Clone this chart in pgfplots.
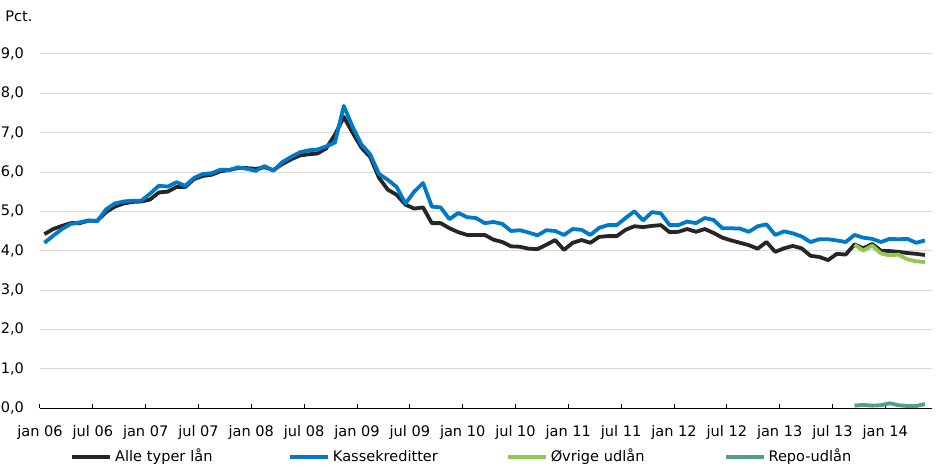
\documentclass[border=0pt]{standalone}
\usepackage{pgfplots}
\pgfplotsset{compat=1.18}
\usepackage{fontspec}
\setmainfont{DejaVu Sans}

\definecolor{alle}{RGB}{38,38,38}
\definecolor{kasse}{RGB}{0,122,199}
\definecolor{ovrige}{RGB}{146,200,80}
\definecolor{repo}{RGB}{79,160,140}
\definecolor{gridc}{RGB}{217,217,217}

\begin{document}
\begin{tikzpicture}
\begin{axis}[
    name=ax,
    scale only axis,
    width=446bp, height=177bp,
    xmin=-0.5, xmax=100.8,
    ymin=0, ymax=9,
    clip=false,
    font=\fontsize{7.3}{9}\selectfont,
    axis x line*=bottom,
    axis y line*=left,
    y axis line style={draw=none},
    x axis line style={draw=black, line width=0.5bp},
    xtick={-0.5,5.5,11.5,17.5,23.5,29.5,35.5,41.5,47.5,53.5,59.5,65.5,71.5,77.5,83.5,89.5,95.5},
    xticklabels={jan 06,jul 06,jan 07,jul 07,jan 08,jul 08,jan 09,jul 09,jan 10,jul 10,jan 11,jul 11,jan 12,jul 12,jan 13,jul 13,jan 14},
    tick align=inside,
    major tick length=2bp,
    xtick style={draw=black, line width=0.5bp},
    ytick={0,1,...,9},
    ytick style={draw=none},
    ymajorgrids,
    grid style={draw=gridc, line width=0.5bp},
    xticklabel style={yshift=-5bp},
    yticklabel style={xshift=-4.5bp, /pgf/number format/.cd, use comma, fixed, fixed zerofill, precision=1, assume math mode=true},
    legend columns=4,
    legend style={at={(0,0)}, anchor=west, xshift=12bp, yshift=-24.5bp,
        draw=none, fill=none, font=\fontsize{7.3}{9}\selectfont,
        /tikz/every even column/.append style={column sep=0bp},
        nodes={text width=85bp, align=left, inner sep=1.5bp}},
    legend image code/.code={\draw[#1] (0bp,0bp) -- (19bp,0bp);},
    every axis plot/.append style={line width=1.9bp, line join=round},
]
\addplot[alle] table {
x y
0 4.42
1 4.55
2 4.63
3 4.70
4 4.70
5 4.76
6 4.76
7 4.98
8 5.12
9 5.20
10 5.24
11 5.25
12 5.30
13 5.48
14 5.50
15 5.62
16 5.62
17 5.82
18 5.90
19 5.93
20 6.02
21 6.05
22 6.10
23 6.10
24 6.08
25 6.12
26 6.05
27 6.20
28 6.32
29 6.42
30 6.45
31 6.47
32 6.60
33 6.95
34 7.40
35 7.00
36 6.62
37 6.38
38 5.85
39 5.55
40 5.42
41 5.17
42 5.07
43 5.10
44 4.70
45 4.70
46 4.57
47 4.47
48 4.40
49 4.40
50 4.40
51 4.28
52 4.22
53 4.11
54 4.10
55 4.05
56 4.04
57 4.15
58 4.27
59 4.02
60 4.20
61 4.27
62 4.20
63 4.35
64 4.37
65 4.37
66 4.53
67 4.62
68 4.60
69 4.63
70 4.65
71 4.47
72 4.48
73 4.55
74 4.48
75 4.55
76 4.45
77 4.33
78 4.26
79 4.20
80 4.14
81 4.05
82 4.22
83 3.97
84 4.06
85 4.12
86 4.06
87 3.87
88 3.84
89 3.76
90 3.92
91 3.90
92 4.16
93 4.06
94 4.17
95 4.00
96 3.99
97 3.97
98 3.94
99 3.92
100 3.89
};
\addlegendentry{Alle typer lån}
\addplot[kasse] table {
x y
0 4.20
1 4.38
2 4.55
3 4.68
4 4.72
5 4.77
6 4.75
7 5.05
8 5.20
9 5.25
10 5.27
11 5.27
12 5.45
13 5.65
14 5.63
15 5.74
16 5.65
17 5.85
18 5.95
19 5.97
20 6.06
21 6.05
22 6.12
23 6.08
24 6.03
25 6.15
26 6.03
27 6.25
28 6.38
29 6.50
30 6.55
31 6.57
32 6.65
33 6.75
34 7.68
35 7.15
36 6.70
37 6.45
38 5.95
39 5.80
40 5.62
41 5.20
42 5.50
43 5.72
44 5.12
45 5.10
46 4.80
47 4.96
48 4.85
49 4.83
50 4.70
51 4.73
52 4.68
53 4.50
54 4.52
55 4.46
56 4.39
57 4.52
58 4.50
59 4.40
60 4.55
61 4.53
62 4.40
63 4.58
64 4.65
65 4.65
66 4.83
67 5.00
68 4.77
69 4.98
70 4.95
71 4.65
72 4.65
73 4.74
74 4.70
75 4.83
76 4.78
77 4.57
78 4.57
79 4.56
80 4.48
81 4.62
82 4.67
83 4.40
84 4.49
85 4.44
86 4.36
87 4.22
88 4.29
89 4.29
90 4.26
91 4.22
92 4.40
93 4.33
94 4.30
95 4.22
96 4.30
97 4.29
98 4.30
99 4.20
100 4.26
};
\addlegendentry{Kassekreditter}
\addplot[ovrige] table {
x y
92 4.15
93 4.00
94 4.13
95 3.93
96 3.88
97 3.90
98 3.78
99 3.73
100 3.71
};
\addlegendentry{Øvrige udlån}
\addplot[repo] table {
x y
92 0.06
93 0.08
94 0.06
95 0.07
96 0.12
97 0.07
98 0.05
99 0.05
100 0.10
};
\addlegendentry{Repo-udlån}
\node[anchor=base west, inner sep=0pt, font=\fontsize{7.3}{9}\selectfont]
    at ([xshift=-17.5bp, yshift=16.5bp]rel axis cs:0,1) {Pct.};
\end{axis}
\pgfresetboundingbox
\path[use as bounding box] ([xshift=-20bp, yshift=-32.5bp]ax.south west) rectangle ([xshift=4bp, yshift=27bp]ax.north east);
\end{tikzpicture}
\end{document}
